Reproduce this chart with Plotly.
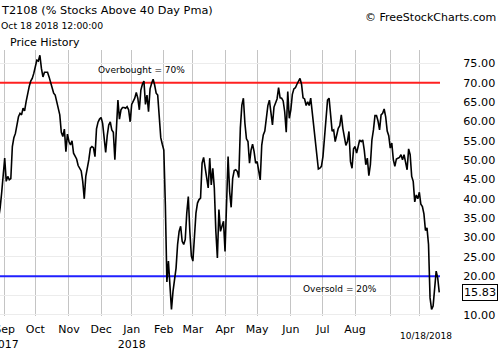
import pandas as pd
import plotly.graph_objects as go

# ---- data -------------------------------------------------------------
title_text = "T2108 (% Stocks Above 40 Day Pma)"
date_text = "Oct 18 2018 12:00:00"
panel_text = "Price History"
credit_text = "© FreeStockCharts.com"
last_date_text = "10/18/2018"

start_date = "2017-08-28"
end_date = "2018-10-18"
holidays = ["2017-09-04", "2017-11-23", "2017-12-25", "2018-01-01", "2018-01-15",
            "2018-02-19", "2018-03-30", "2018-05-28", "2018-07-04", "2018-09-03"]

# daily T2108 closes, Aug 28 2017 .. Oct 18 2018
values = [
    35.0, 37.6, 41.5, 46.0,
    50.5, 44.5, 45.8, 44.9, 45.2, 53.5, 55.8, 56.9, 59.1, 61.2,
    62.1, 61.7, 63.4, 62.7, 65.1, 67.3, 69.0, 70.4, 71.1, 72.4,
    74.4, 75.8, 75.6, 77.1, 73.7, 71.5, 72.7, 72.8, 72.7, 71.5,
    69.8, 68.7, 67.3, 66.8, 65.1, 63.4, 61.7, 57.2, 56.1, 58.0,
    52.2, 56.7, 54.8, 53.9, 55.0, 51.8, 50.9, 50.3, 48.6, 47.9,
    47.2, 44.5, 40.0, 45.8, 47.7, 50.1, 53.1, 53.5, 53.2, 50.9,
    58.1, 59.8, 60.6, 61.0, 59.5, 54.8, 52.0, 56.3, 59.1, 59.9,
    57.8, 57.2, 50.1, 58.0, 65.5, 60.6, 63.0, 63.6, 63.6, 63.4,
    63.8, 63.0, 59.9, 64.4, 65.3, 66.0, 67.5, 66.0, 63.0, 68.1,
    69.6, 70.4, 64.4, 66.8, 62.5, 68.4, 69.8, 70.9, 69.4, 67.3,
    66.8, 60.1, 55.8, 54.1, 52.6, 38.5, 18.5, 23.9, 18.0, 11.4,
    16.1, 19.1, 22.1, 28.2, 31.6, 32.9, 29.0, 28.2, 29.5, 36.3,
    40.6, 31.6, 25.2, 23.9, 30.7, 36.3, 38.9, 39.8, 40.2, 49.2,
    50.7, 48.4, 45.8, 42.8, 50.5, 43.6, 47.9, 42.8, 31.6, 24.7,
    37.2, 31.6, 32.9, 34.2, 26.4, 39.3, 50.9, 41.9, 37.8, 45.3,
    47.3, 47.5, 47.1, 45.5, 58.2, 64.2, 66.0, 59.5, 55.5, 54.8,
    49.2, 52.6, 54.1, 52.2, 49.2, 49.6, 47.1, 44.9, 53.9, 56.5,
    57.5, 61.2, 64.1, 65.5, 62.5, 59.1, 63.7, 64.6, 65.8, 68.7,
    66.1, 66.0, 65.3, 62.5, 57.2, 67.7, 60.8, 63.0, 67.0, 68.4,
    68.7, 69.6, 70.6, 71.1, 69.6, 66.1, 65.8, 64.1, 65.1, 64.1,
    66.0, 62.5, 59.1, 55.7, 50.5, 47.7, 47.9, 48.4, 50.9, 55.2,
    59.9, 65.5, 66.0, 60.8, 57.5, 57.8, 54.8, 56.5, 58.2, 58.9,
    61.7, 58.2, 56.1, 53.8, 54.8, 57.4, 49.6, 47.9, 52.9, 53.5,
    51.8, 53.5, 55.2, 54.8, 55.2, 52.6, 48.8, 50.5, 46.0, 48.8,
    55.2, 57.8, 61.5, 61.5, 60.1, 57.8, 61.7, 62.1, 63.2, 61.2,
    57.5, 56.3, 53.1, 54.4, 50.1, 48.4, 50.3, 50.5, 50.7, 51.4,
    50.1, 51.4, 49.0, 47.5, 52.9, 51.4, 45.8, 44.5, 39.2, 41.0,
    40.0, 41.7, 38.6, 38.0, 36.1, 31.8, 32.5, 28.2, 14.4, 11.4,
    12.3, 16.1, 21.3, 19.6, 15.83,
]

month_labels = ["Sep<br>2017", "Oct", "Nov", "Dec", "Jan<br>2018", "Feb", "Mar",
                "Apr", "May", "Jun", "Jul", "Aug", "", ""]

y_ticks = [10, 15, 20, 25, 30, 35, 40, 45, 50, 55, 60, 65, 70, 75]
y_tick_labels = ["10.00", "", "20.00", "25.00", "30.00", "35.00", "40.00", "45.00",
                 "50.00", "55.00", "60.00", "65.00", "70.00", "75.00"]

overbought_level = 70
oversold_level = 20
overbought_text = "Overbought = 70%"
oversold_text = "Oversold = 20%"

# ---- build ------------------------------------------------------------
dates = pd.bdate_range(start_date, end_date, freq="C", holidays=holidays)
n = min(len(dates), len(values))
dates = list(dates[-n:])
vals = values[-n:]
xs = list(range(n))

month_starts = [i for i in range(1, n) if dates[i].month != dates[i - 1].month]
month_starts = month_starts[:len(month_labels)]
first_idx = month_starts[0]

x_range = [first_idx - 3.07, first_idx + 284.5]

FONT = "DejaVu Sans"

fig = go.Figure()
# threshold lines (drawn first so the index line sits on top)
fig.add_trace(go.Scatter(x=x_range, y=[overbought_level] * 2, mode="lines",
                         line=dict(color="#ff2020", width=2),
                         hoverinfo="skip", showlegend=False, cliponaxis=True))
fig.add_trace(go.Scatter(x=x_range, y=[oversold_level] * 2, mode="lines",
                         line=dict(color="#2020ff", width=2),
                         hoverinfo="skip", showlegend=False, cliponaxis=True))
fig.add_trace(go.Scatter(x=xs, y=vals, mode="lines",
                         line=dict(color="black", width=1.6),
                         hoverinfo="skip", showlegend=False))

def ann(text, x, y, size, xanchor="left", yanchor="middle", **kw):
    fig.add_annotation(text=text, x=x, y=y, xref="paper", yref="paper",
                       xanchor=xanchor, yanchor=yanchor, showarrow=False,
                       font=dict(family=FONT, size=size, color="black"), **kw)

ann(title_text, -0.002, (316 - 10) / 266, 11.3)
ann(date_text, -0.002, (316 - 25) / 266, 9.3)
ann(panel_text, 8 / 440, (316 - 43) / 266, 11)
ann(credit_text, 498 / 440, (316 - 17) / 266, 11, xanchor="right")
ann(overbought_text, 96 / 440, (316 - 70) / 266, 9)
ann(oversold_text, 301 / 440, (316 - 289) / 266, 9)
ann(last_date_text, 425.5 / 440, (316 - 336) / 266, 9, xanchor="center")

fig.add_annotation(text=f"{vals[-1]:.2f}", x=462 / 440, y=vals[-1], xref="paper", yref="y",
                   xanchor="left", yanchor="middle", showarrow=False,
                   font=dict(family=FONT, size=11.2, color="black"),
                   bordercolor="black", borderwidth=1, borderpad=1, bgcolor="white")

fig.update_layout(
    width=500, height=350,
    margin=dict(l=0, r=60, t=50, b=34, autoexpand=False),
    paper_bgcolor="white", plot_bgcolor="white",
    showlegend=False,
    xaxis=dict(range=x_range, tickvals=month_starts, ticktext=month_labels,
               showgrid=True, gridcolor="#c4c4c4", gridwidth=1,
               zeroline=False, showline=False, ticklabeloverflow="allow",
               automargin=False,
               ticks="outside", ticklen=3, tickcolor="rgba(0,0,0,0)",
               tickfont=dict(family=FONT, size=11, color="black")),
    yaxis=dict(range=[9.72, 78.45], side="right", tickvals=y_ticks, ticktext=y_tick_labels,
               showgrid=True, gridcolor="#ececec", gridwidth=1,
               zeroline=False, showline=False, automargin=False,
               ticks="outside", ticklen=20, tickcolor="rgba(0,0,0,0)",
               tickfont=dict(family=FONT, size=11.2, color="black")),
)

fig.write_html("out.html")
